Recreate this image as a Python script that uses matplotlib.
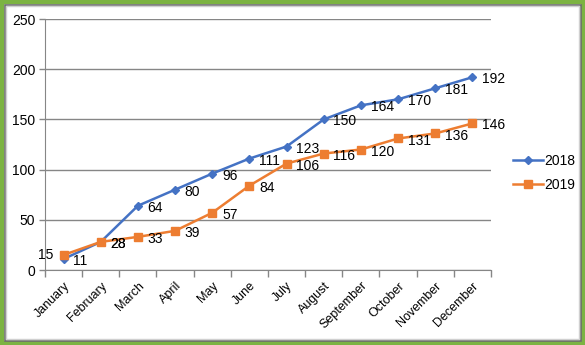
import matplotlib
matplotlib.use("Agg")
import matplotlib.pyplot as plt
from matplotlib.patches import Rectangle

months = ["January", "February", "March", "April", "May", "June", "July",
          "August", "September", "October", "November", "December"]
s2018 = [11, 28, 64, 80, 96, 111, 123, 150, 164, 170, 181, 192]
s2019 = [15, 28, 33, 39, 57, 84, 106, 116, 120, 131, 136, 146]
yticks = [0, 50, 100, 150, 200, 250]

plt.rcParams['font.family'] = ['Liberation Sans', 'DejaVu Sans']

W, H = 585, 345
fig = plt.figure(figsize=(W / 100, H / 100), dpi=100)
ax = fig.add_axes([45 / W, (H - 270) / H, (491 - 45) / W, (270 - 19) / H])

x = list(range(len(months)))
blue = "#4472C4"
orange = "#ED7D31"
ax.plot(x, s2018, color=blue, lw=1.8, marker="D", ms=4, label="2018")
ax.plot(x, s2019, color=orange, lw=1.8, marker="s", ms=6, label="2019")

fs = 10
for i, v in enumerate(s2018):
    ax.annotate(str(v), (i, v), xytext=(7, -1.5), textcoords="offset points",
                ha="left", va="center", fontsize=fs, color="#000000")
for i, v in enumerate(s2019):
    if i == 0:
        ax.annotate(str(v), (i, v), xytext=(-7, 0), textcoords="offset points",
                    ha="right", va="center", fontsize=fs, color="#000000")
    else:
        ax.annotate(str(v), (i, v), xytext=(7, -1.5), textcoords="offset points",
                    ha="left", va="center", fontsize=fs, color="#000000")

ax.set_xlim(-0.5, len(months) - 0.5)
ax.set_ylim(0, 250)
ax.set_yticks(yticks)
ax.set_yticklabels([str(t) for t in yticks], fontsize=fs)
ax.set_xticks(x)
ax.set_xticklabels(months, rotation=45, ha="right", rotation_mode="anchor", fontsize=9)
ax.tick_params(axis="x", length=0, pad=7)
ax.set_xticks([i - 0.5 for i in range(len(months) + 1)], minor=True)
ax.tick_params(axis="x", which="minor", length=5, color="#868686", width=1)
ax.tick_params(axis="y", length=4, color="#868686", width=1, pad=3)
ax.grid(axis="y", color="#868686", lw=1)
ax.set_axisbelow(True)
for s in ["top", "right"]:
    ax.spines[s].set_visible(False)
ax.spines["left"].set_color("#868686")
ax.spines["bottom"].set_color("#868686")

leg = fig.legend(loc="upper left", bbox_to_anchor=(500 / W, 1 - 141 / H), frameon=False,
                 fontsize=fs, handlelength=2.2, labelspacing=0.75, handletextpad=0.1)

# border: green outer frame with gray inner shadow line
fig.patches.append(Rectangle((0, 0), 1, 1, transform=fig.transFigure, fill=False,
                             edgecolor="#7CB342", lw=6, zorder=10))
fig.patches.append(Rectangle((4.5 / W, 4.5 / H), 1 - 9 / W, 1 - 9 / H, transform=fig.transFigure,
                             fill=False, edgecolor="#6d6d6d", lw=1.2, zorder=10))
fig.patches.append(Rectangle((6 / W, 6 / H), 1 - 12 / W, 1 - 12 / H, transform=fig.transFigure,
                             fill=False, edgecolor="#d0d0d0", lw=1, zorder=10))

fig.savefig("out.png", dpi=100)
